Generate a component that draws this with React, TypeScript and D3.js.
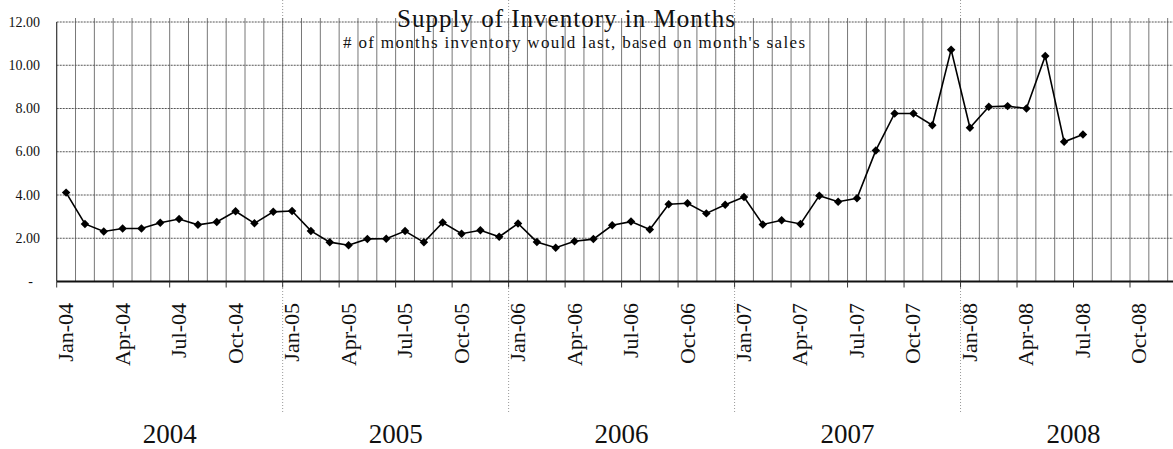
import React, { useEffect, useRef } from 'react';
import * as d3 from 'd3';

// months of the chart (Jan-04 .. Dec-08), values only up to Jul-08
const monthNames = ['Jan', 'Feb', 'Mar', 'Apr', 'May', 'Jun', 'Jul', 'Aug', 'Sep', 'Oct', 'Nov', 'Dec'];
const years = ['2004', '2005', '2006', '2007', '2008'];
const months: string[] = years.flatMap((y) => monthNames.map((m) => `${m}-${y.slice(2)}`));

const supply = [
  4.11, 2.66, 2.31, 2.45, 2.45, 2.72, 2.89, 2.62, 2.75, 3.25, 2.69, 3.22,
  3.26, 2.34, 1.82, 1.68, 1.97, 1.98, 2.33, 1.81, 2.73, 2.21, 2.37, 2.07,
  2.68, 1.83, 1.56, 1.86, 1.96, 2.6, 2.77, 2.4, 3.57, 3.62, 3.15, 3.55,
  3.91, 2.64, 2.83, 2.66, 3.97, 3.69, 3.85, 6.06, 7.77, 7.77, 7.23, 10.72,
  7.11, 8.08, 8.11, 8.0, 10.43, 6.46, 6.8,
];

const yTicks = [0, 2, 4, 6, 8, 10, 12];
const xTickLabels = months.filter((_, i) => i % 3 === 0);

const title = 'Supply of Inventory in Months';
const subtitle = "# of months inventory would last, based on month's sales";

const W = 1173;
const H = 449;

const SupplyChart = () => {
  const ref = useRef<SVGSVGElement | null>(null);

  useEffect(() => {
    if (!ref.current) return;
    const svg = d3.select(ref.current);
    svg.selectAll('*').remove();

    const left = 56.7;
    const step = 18.83;
    const top = 22;
    const bottom = 281.5;
    const font = 'Liberation Serif, Times New Roman, serif';

    const x = d3.scaleBand<string>().domain(months).range([left, left + step * months.length]);
    const y = d3.scaleLinear().domain([0, 12]).range([bottom, top]);

    svg.append('rect').attr('width', W).attr('height', H).attr('fill', '#fff');

    // year separators
    svg.selectAll('.yearsep')
      .data(years.slice(1))
      .enter().append('line')
      .attr('x1', (d) => x(`Jan-${d.slice(2)}`)!)
      .attr('x2', (d) => x(`Jan-${d.slice(2)}`)!)
      .attr('y1', 0)
      .attr('y2', 414)
      .attr('stroke', '#999')
      .attr('stroke-width', 1)
      .attr('stroke-dasharray', '1,2');

    // vertical grid (every month boundary)
    svg.selectAll('.vgrid')
      .data(months.slice(1))
      .enter().append('line')
      .attr('x1', (d) => x(d)!)
      .attr('x2', (d) => x(d)!)
      .attr('y1', top - 4)
      .attr('y2', bottom)
      .attr('stroke', '#777')
      .attr('stroke-width', 1);

    // horizontal grid
    svg.selectAll('.hgrid')
      .data(yTicks.slice(1))
      .enter().append('line')
      .attr('x1', left)
      .attr('x2', W)
      .attr('y1', (d) => y(d))
      .attr('y2', (d) => y(d))
      .attr('stroke', '#555')
      .attr('stroke-width', 1)
      .attr('stroke-dasharray', '2,1');

    // axes
    svg.append('line')
      .attr('x1', left).attr('x2', left)
      .attr('y1', top).attr('y2', bottom)
      .attr('stroke', '#333').attr('stroke-width', 1.2);
    svg.append('line')
      .attr('x1', left).attr('x2', W)
      .attr('y1', bottom).attr('y2', bottom)
      .attr('stroke', '#111').attr('stroke-width', 2);

    svg.selectAll('.xtick')
      .data(xTickLabels)
      .enter().append('line')
      .attr('x1', (d) => x(d)!)
      .attr('x2', (d) => x(d)!)
      .attr('y1', bottom)
      .attr('y2', bottom + 6)
      .attr('stroke', '#333');

    // y labels
    svg.selectAll('.ylab')
      .data(yTicks)
      .enter().append('text')
      .attr('x', (d) => (d === 0 ? 33 : 40))
      .attr('y', (d) => y(d) + 4.5)
      .attr('text-anchor', 'end')
      .attr('font-family', font)
      .attr('font-size', 14)
      .attr('fill', '#111')
      .text((d) => (d === 0 ? '-' : d3.format('.2f')(d)));

    // x labels
    svg.selectAll('.xlab')
      .data(xTickLabels)
      .enter().append('text')
      .attr('transform', (d) => `translate(${x(d)! + x.bandwidth() / 2 + 7},303) rotate(-90)`)
      .attr('text-anchor', 'end')
      .attr('font-family', font)
      .attr('font-size', 22)
      .attr('fill', '#111')
      .text((d) => d);

    // year labels
    svg.selectAll('.yearlab')
      .data(years)
      .enter().append('text')
      .attr('x', (d) => x(`Jul-${d.slice(2)}`)!)
      .attr('y', 443)
      .attr('text-anchor', 'middle')
      .attr('font-family', font)
      .attr('font-size', 27)
      .attr('fill', '#111')
      .text((d) => d);

    // title
    svg.append('text')
      .attr('x', 397).attr('y', 27)
      .attr('font-family', font)
      .attr('font-size', 25)
      .attr('textLength', 338)
      .attr('lengthAdjust', 'spacing')
      .attr('fill', '#111')
      .text(title);
    svg.append('text')
      .attr('x', 343).attr('y', 48)
      .attr('font-family', font)
      .attr('font-size', 17)
      .attr('textLength', 462)
      .attr('lengthAdjust', 'spacing')
      .attr('fill', '#111')
      .text(subtitle);

    // series
    const pts = supply.map((v, i) => ({ m: months[i], v }));
    const line = d3.line<{ m: string; v: number }>()
      .x((d) => x(d.m)! + x.bandwidth() / 2)
      .y((d) => y(d.v));

    svg.append('path')
      .datum(pts)
      .attr('d', line)
      .attr('fill', 'none')
      .attr('stroke', '#000')
      .attr('stroke-width', 1.6);

    svg.selectAll('.dot')
      .data(pts)
      .enter().append('path')
      .attr('d', d3.symbol().type(d3.symbolSquare).size(36)!)
      .attr('transform', (d) => `translate(${x(d.m)! + x.bandwidth() / 2},${y(d.v)}) rotate(45)`)
      .attr('fill', '#000');
  }, []);

  return <svg ref={ref} width={W} height={H} style={{ position: 'absolute', left: 0, top: 0 }} />;
};

export default function App() {
  return <SupplyChart />;
}
